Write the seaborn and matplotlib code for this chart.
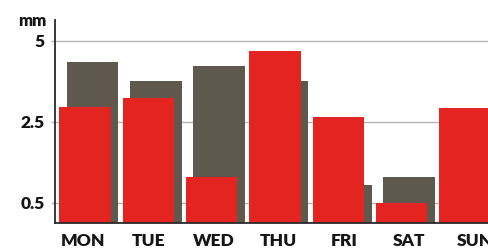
import numpy as np
import pandas as pd
import matplotlib
matplotlib.use("Agg")
import matplotlib.pyplot as plt
import seaborn as sns

days = ["MON", "TUE", "WED", "THU", "FRI", "SAT", "SUN"]
gray_vals = [3.98, 3.51, 3.88, 3.51, 0.95, 1.13, 2.5]
red_vals = [2.86, 3.08, 1.13, 4.25, 2.61, 0.49, 2.85]
ytick_pos = [0.5, 2.5, 4.5]
ytick_labels = ["0.5", "2.5", "5"]
unit_label = "mm"

RED = "#e32421"
GRAY = "#5f584d"
TXT = "#151515"
WEIGHT = "heavy"

sns.set_style("white")
plt.rcParams["font.family"] = ["Lato", "DejaVu Sans"]

W, H = 489, 248
fig = plt.figure(figsize=(W / 100, H / 100), dpi=100)
ax = fig.add_axes([55 / W, 1 - 223 / H, 434 / W, (223 - 20) / H])

idx = np.arange(len(days))
df_gray = pd.DataFrame({"x": idx + 0.077, "y": gray_vals})
df_red = pd.DataFrame({"x": idx - 0.04, "y": red_vals})

sns.barplot(data=df_gray, x="x", y="y", native_scale=True, width=0.815,
            color=GRAY, saturation=1, linewidth=0, ax=ax, zorder=2)
sns.barplot(data=df_red, x="x", y="y", native_scale=True, width=0.815,
            color=RED, saturation=1, linewidth=0, ax=ax, zorder=3)

ax.set_xlim(-0.514, 6.339)
ax.set_ylim(0, 5.01)
ax.set_xticks(idx * 1.03 - 0.07)
ax.set_xticklabels(days)
ax.set_yticks(ytick_pos)
ax.set_yticklabels(ytick_labels)
ax.set_xlabel("")
ax.set_ylabel("")

ax.grid(axis="y", color="#b5b5b5", linewidth=1.0, zorder=0)
ax.grid(axis="x", visible=False)
ax.set_axisbelow(True)

for s in ["top", "right"]:
    ax.spines[s].set_visible(False)
for s in ["left", "bottom"]:
    ax.spines[s].set_visible(True)
    ax.spines[s].set_color("#2a2a2a")
    ax.spines[s].set_linewidth(1.3)
    ax.spines[s].set_zorder(5)

ax.tick_params(axis="y", left=True, length=3, width=1, color="#b5b5b5",
               pad=4.5, labelsize=12.5, labelcolor=TXT)
ax.tick_params(axis="x", bottom=False, length=0, pad=7.5,
               labelsize=12.5, labelcolor=TXT)
for lab in ax.get_xticklabels() + ax.get_yticklabels():
    lab.set_fontweight(WEIGHT)

fig.text(46 / W, 1 - 26 / H, unit_label, ha="right", va="baseline",
         fontsize=12, fontweight=WEIGHT, color=TXT)

fig.savefig("out.png", dpi=100, facecolor="white")
